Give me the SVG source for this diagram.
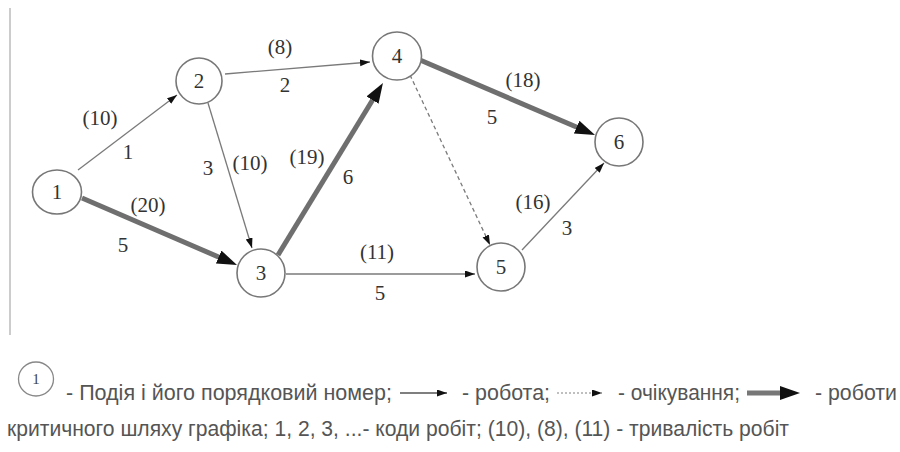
<svg xmlns="http://www.w3.org/2000/svg" width="900" height="452" viewBox="0 0 900 452">
<defs>
<marker id="ah" markerUnits="userSpaceOnUse" markerWidth="11" markerHeight="8" refX="10" refY="3.5" orient="auto"><path d="M0,0 L10,3.5 L0,7 z" fill="#111"/></marker>
<marker id="ahb" markerUnits="userSpaceOnUse" markerWidth="21" markerHeight="15" refX="8" refY="7" orient="auto"><path d="M0,0 L20,7 L0,14 z" fill="#111"/></marker>
</defs>
<style>
.node ellipse{fill:#fff;stroke:#777;stroke-width:1.6}
.e{stroke:#7a7a7a;stroke-width:1.3;fill:none;marker-end:url(#ah)}
.c{stroke:#6f6f6f;stroke-width:5;fill:none;marker-end:url(#ahb)}
.d{stroke:#7a7a7a;stroke-width:1.3;stroke-dasharray:4 3;fill:none;marker-end:url(#ah)}
</style>
<rect width="900" height="452" fill="#fff"/>
<line x1="10" y1="8" x2="10" y2="335" stroke="#bbb" stroke-width="1.5"/>
<g id="connectors">
<line class="e" x1="78" y1="170" x2="177" y2="95"/>
<line class="e" x1="225" y1="74" x2="370" y2="62"/>
<line class="e" x1="208" y1="103" x2="252" y2="248"/>
<line class="c" x1="82" y1="198" x2="226" y2="260.2"/>
<line class="c" x1="278" y1="255" x2="376.7" y2="93.2"/>
<line class="e" x1="286" y1="274" x2="475" y2="274"/>
<line class="d" x1="410" y1="75" x2="490" y2="245"/>
<line class="c" x1="420" y1="60" x2="584" y2="130.3"/>
<line class="e" x1="522" y1="250" x2="604" y2="163"/>
</g>
<g id="edge-labels" font-family="Liberation Serif, serif" font-size="21" fill="#333" text-anchor="middle" dominant-baseline="central">
<text x="280" y="47">(8)</text>
<text x="285" y="85">2</text>
<text x="100" y="118">(10)</text>
<text x="128" y="152">1</text>
<text x="208" y="168">3</text>
<text x="250" y="163">(10)</text>
<text x="307" y="157">(19)</text>
<text x="348" y="177">6</text>
<text x="148" y="205">(20)</text>
<text x="123" y="245">5</text>
<text x="377" y="252">(11)</text>
<text x="380" y="293">5</text>
<text x="523" y="80">(18)</text>
<text x="492" y="117">5</text>
<text x="533" y="202">(16)</text>
<text x="567" y="228">3</text>
</g>
<g font-family="Liberation Serif, serif" font-size="21" fill="#333" text-anchor="middle" dominant-baseline="central">
<g id="n1" class="node"><ellipse cx="57" cy="192" rx="24.5" ry="22"/><text x="57" y="192">1</text></g>
<g id="n2" class="node"><ellipse cx="199" cy="81" rx="23" ry="23"/><text x="199" y="81">2</text></g>
<g id="n3" class="node"><ellipse cx="261" cy="273" rx="24" ry="24"/><text x="261" y="273">3</text></g>
<g id="n4" class="node"><ellipse cx="397" cy="56" rx="24.5" ry="24"/><text x="397" y="56">4</text></g>
<g id="n5" class="node"><ellipse cx="501" cy="267" rx="24" ry="24"/><text x="501" y="267">5</text></g>
<g id="n6" class="node"><ellipse cx="619" cy="142" rx="24" ry="24"/><text x="619" y="142">6</text></g>
</g>
<g id="legend" font-family="Liberation Sans, Arial, sans-serif" font-size="22" fill="#555">
<ellipse cx="36" cy="379" rx="17.5" ry="17" fill="#fff" stroke="#888" stroke-width="1.3"/>
<text x="36" y="379" font-family="Liberation Serif, serif" font-size="15" fill="#444" text-anchor="middle" dominant-baseline="central">1</text>
<text x="66" y="400" textLength="326" lengthAdjust="spacingAndGlyphs">- Подія і його порядковий номер;</text>
<line x1="400" y1="393" x2="447" y2="393" stroke="#555" stroke-width="1.3" marker-end="url(#ah)"/>
<text x="462" y="400" textLength="88" lengthAdjust="spacingAndGlyphs">- робота;</text>
<line x1="557" y1="393" x2="602" y2="393" stroke="#aaa" stroke-width="1.3" stroke-dasharray="2 2" marker-end="url(#ah)"/>
<text x="618" y="400" textLength="122" lengthAdjust="spacingAndGlyphs">- очікування;</text>
<line x1="747" y1="393" x2="788" y2="393" stroke="#777" stroke-width="5" marker-end="url(#ahb)"/>
<text x="815" y="400" textLength="82" lengthAdjust="spacingAndGlyphs">- роботи</text>
<text x="7" y="436" textLength="782" lengthAdjust="spacingAndGlyphs">критичного шляху графіка; 1, 2, 3, ...- коди робіт; (10), (8), (11) - тривалість робіт</text>
</g>
</svg>
